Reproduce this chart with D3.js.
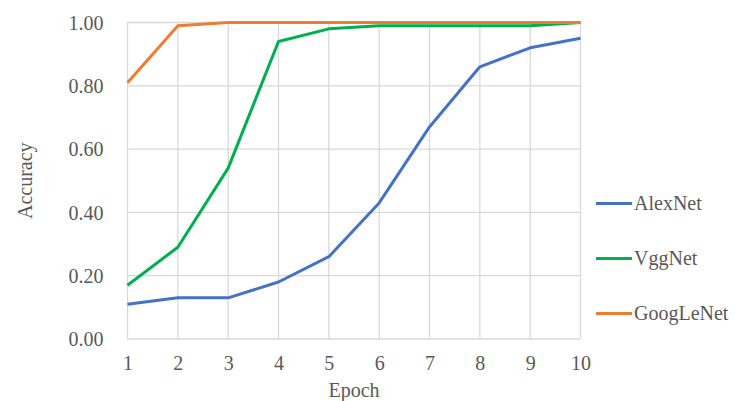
<!DOCTYPE html>
<html>
<head>
<meta charset="utf-8">
<script src="https://cdn.jsdelivr.net/npm/d3@7"></script>
<style>
  html, body { margin: 0; padding: 0; background: #fff; }
  svg { display: block; }
</style>
</head>
<body>
<svg id="chart" width="735" height="401"></svg>
<script>
// Training accuracy per epoch for three CNN architectures
const epochs = [1, 2, 3, 4, 5, 6, 7, 8, 9, 10];
const alexNet = [0.11, 0.13, 0.13, 0.18, 0.26, 0.43, 0.67, 0.86, 0.92, 0.95];
const vggNet = [0.17, 0.29, 0.54, 0.94, 0.98, 0.99, 0.99, 0.99, 0.99, 1.00];
const googLeNet = [0.81, 0.99, 1.00, 1.00, 1.00, 1.00, 1.00, 1.00, 1.00, 1.00];
const yTicks = [0, 0.2, 0.4, 0.6, 0.8, 1.0];
const seriesNames = ["AlexNet", "VggNet", "GoogLeNet"];
const seriesColors = ["#4472C4", "#00B050", "#ED7D31"];

const FONT = "'Liberation Serif', 'Times New Roman', serif";
const TEXT_COLOR = "#595959";

const series = [alexNet, vggNet, googLeNet].map((values, i) => ({
  name: seriesNames[i],
  color: seriesColors[i],
  values: values.map((v, j) => ({ epoch: epochs[j], value: v }))
}));

const svg = d3.select("#chart")
  .attr("font-family", FONT);
const plot = { left: 127.5, right: 580.5, top: 22.5, bottom: 339 };

const x = d3.scaleLinear().domain([1, 10]).range([plot.left, plot.right]);
const y = d3.scaleLinear().domain([0, 1]).range([plot.bottom, plot.top]);

// Gridlines
const grid = svg.append("g").attr("stroke", "#d9d9d9").attr("stroke-width", 1.3);
grid.selectAll("line.h").data(yTicks).join("line")
  .attr("class", "h")
  .attr("x1", plot.left).attr("x2", plot.right)
  .attr("y1", d => y(d)).attr("y2", d => y(d));
grid.selectAll("line.v").data(epochs).join("line")
  .attr("class", "v")
  .attr("x1", d => x(d)).attr("x2", d => x(d))
  .attr("y1", plot.top).attr("y2", plot.bottom);

// Axes (labels only, the grid provides the lines)
const yAxis = svg.append("g")
  .attr("transform", `translate(${plot.left - 24},0)`)
  .call(d3.axisLeft(y).tickValues(yTicks).tickFormat(d3.format(".2f")).tickSize(0));
yAxis.attr("font-family", FONT).attr("font-size", 20);
yAxis.select(".domain").remove();
yAxis.selectAll("text")
  .attr("x", 0)
  .attr("dy", "0.34em")
  .attr("fill", TEXT_COLOR);

const xAxis = svg.append("g")
  .attr("transform", `translate(0,${plot.bottom + 17})`)
  .call(d3.axisBottom(x).tickValues(epochs).tickFormat(d3.format("d")).tickSize(0));
xAxis.attr("font-family", FONT).attr("font-size", 20);
xAxis.select(".domain").remove();
xAxis.selectAll("text")
  .attr("y", 0)
  .attr("dy", "0.71em")
  .attr("fill", TEXT_COLOR);

// Axis titles
svg.append("text")
  .attr("x", (plot.left + plot.right) / 2)
  .attr("y", 397)
  .attr("text-anchor", "middle")
  .attr("font-size", 20)
  .attr("fill", TEXT_COLOR)
  .text("Epoch");

svg.append("text")
  .attr("transform", `translate(32,${(plot.top + plot.bottom) / 2}) rotate(-90)`)
  .attr("text-anchor", "middle")
  .attr("font-size", 20)
  .attr("fill", TEXT_COLOR)
  .text("Accuracy");

// Series lines
const line = d3.line().x(d => x(d.epoch)).y(d => y(d.value));
svg.append("g").selectAll("path").data(series).join("path")
  .attr("fill", "none")
  .attr("stroke", d => d.color)
  .attr("stroke-width", 3)
  .attr("stroke-linejoin", "round")
  .attr("d", d => line(d.values));

// Legend
const legend = svg.append("g").selectAll("g").data(series).join("g")
  .attr("transform", (d, i) => `translate(596,${203.5 + i * 55})`);
legend.append("line")
  .attr("x1", 0).attr("x2", 36)
  .attr("stroke", d => d.color)
  .attr("stroke-width", 3);
legend.append("text")
  .attr("x", 38)
  .attr("dy", "0.34em")
  .attr("font-size", 20)
  .attr("fill", TEXT_COLOR)
  .text(d => d.name);
</script>
</body>
</html>
